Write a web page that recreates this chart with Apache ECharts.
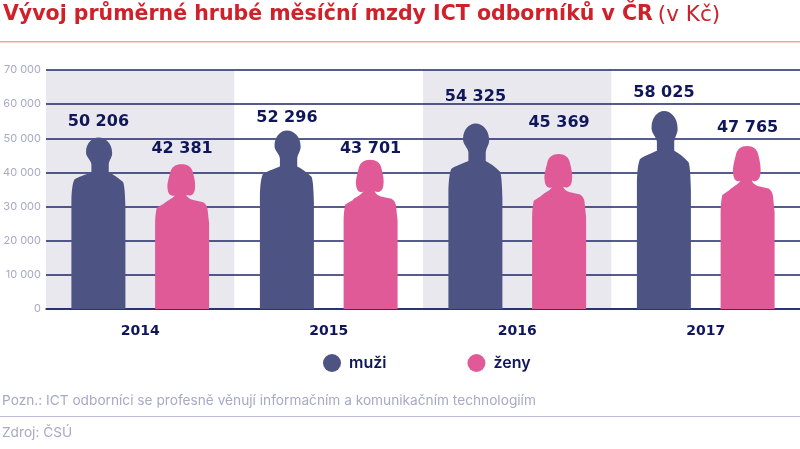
<!DOCTYPE html>
<html>
<head>
<meta charset="utf-8">
<script src="https://cdn.jsdelivr.net/npm/echarts@6/dist/echarts.min.js"></script>
<style>html,body{margin:0;padding:0;background:#fff}#chart{width:800px;height:449px}</style>
</head>
<body>
<div id="chart"></div>
<script>
var years = ['2014', '2015', '2016', '2017'];
var muzi = [50206, 52296, 54325, 58025];
var zeny = [42381, 43701, 45369, 47765];

// gap between figure top and its number, differs per figure in the original
var liftMuzi = [8, 5, 19, 10];
var liftZeny = [7, 3, 23, 10];

var manPath = 'path://M81 0C104 0 122 20 122 44C124 58 114 66 112 80L112 104C125 110 140 120 155 134C160 146 161 180 162 208L162 516L0 516L0 185C1 160 3 138 9 126C20 118 40 112 60 104L60 80C58 66 42 58 44 42C44 18 62 0 81 0Z';
var womanPath = 'path://M80 0C98 0 110 8 114 24C119 42 123 60 120 76C118 92 106 98 94 92C96 100 104 104 112 107L145 114C153 119 157 126 158 133L163 178L163 436L0 436L0 178C0 160 2 145 5 131L27 118C34 110 52 104 60 93C50 98 40 92 38 76C35 60 41 42 46 24C50 8 62 0 80 0Z';

var font = 'Inter';
var dark = '#0f1659';
var grey = '#a9a8c6';

function spaced(v) {
    return String(v).replace(/\B(?=(\d{3})+$)/g, ' ');
}

function figures(values, lifts) {
    return values.map(function (v, i) {
        return { value: v, label: { distance: lifts[i] } };
    });
}

function figureSeries(name, values, lifts, path, color) {
    return {
        name: name,
        type: 'pictorialBar',
        z: 3,
        symbol: path,
        symbolSize: [54, '100%'],
        symbolPosition: 'start',
        barWidth: 54,
        barGap: '55%',
        itemStyle: { color: color },
        label: {
            show: true,
            position: 'top',
            color: dark,
            fontFamily: 'DejaVu Sans',
            fontWeight: 'bold',
            fontSize: 16,
            formatter: function (p) { return spaced(p.value); }
        },
        data: figures(values, lifts)
    };
}

var chart = echarts.init(document.getElementById('chart'));
chart.setOption({
    backgroundColor: '#fff',
    animation: false,
    title: [
        {
            text: '{b|Vývoj průměrné hrubé měsíční mzdy ICT odborníků v ČR} {n|(v Kč)}',
            left: -2, top: -1,
            textStyle: {
                rich: {
                    b: { fontFamily: 'DejaVu Sans', fontWeight: 'bold', fontSize: 20.5, color: '#d0202a' },
                    n: { fontFamily: 'DejaVu Sans', fontWeight: 'normal', fontSize: 21.5, color: '#d0202a' }
                }
            }
        },
        {
            text: 'Pozn.: ICT odborníci se profesně věnují informačním a komunikačním technologiím',
            left: -3, top: 389,
            textStyle: { fontFamily: font, fontWeight: 'normal', fontSize: 13.7, color: grey }
        },
        {
            text: 'Zdroj: ČSÚ',
            left: -3, top: 421,
            textStyle: { fontFamily: font, fontWeight: 'normal', fontSize: 13.7, color: grey }
        }
    ],
    legend: {
        left: 318, top: 349,
        icon: 'circle',
        itemWidth: 18, itemHeight: 18,
        itemGap: 81,
        textStyle: { fontFamily: font, fontWeight: 600, fontSize: 16, color: dark, padding: [0, 0, 0, 3] },
        data: ['muži', 'ženy']
    },
    grid: { left: 46, right: 0, top: 70, bottom: 140, outerBoundsMode: 'none' },
    xAxis: {
        type: 'category',
        data: years,
        axisLine: { lineStyle: { color: '#1f2668', width: 1.5 } },
        axisTick: { show: false },
        axisLabel: { color: dark, fontFamily: 'DejaVu Sans', fontWeight: 'bold', fontSize: 14, margin: 15 },
        splitArea: { show: true, areaStyle: { color: ['#e8e8ee', '#ffffff'] } }
    },
    yAxis: {
        type: 'value',
        z: 1,
        min: 0, max: 70000, interval: 10000,
        axisLine: { show: false },
        axisTick: { show: false },
        axisLabel: {
            color: grey, fontFamily: font, fontSize: 11, margin: 5,
            formatter: spaced
        },
        splitLine: { lineStyle: { color: '#1f2668', width: 1.5 } }
    },
    graphic: [
        { type: 'rect', shape: { x: 0, y: 41, width: 800, height: 1.5 }, style: { fill: '#e2a9a6' } },
        { type: 'rect', shape: { x: 0, y: 416, width: 800, height: 1 }, style: { fill: '#bdbcd8' } }
    ],
    series: [
        figureSeries('muži', muzi, liftMuzi, manPath, '#4d5484'),
        figureSeries('ženy', zeny, liftZeny, womanPath, '#e05a98')
    ]
});
</script>
</body>
</html>
